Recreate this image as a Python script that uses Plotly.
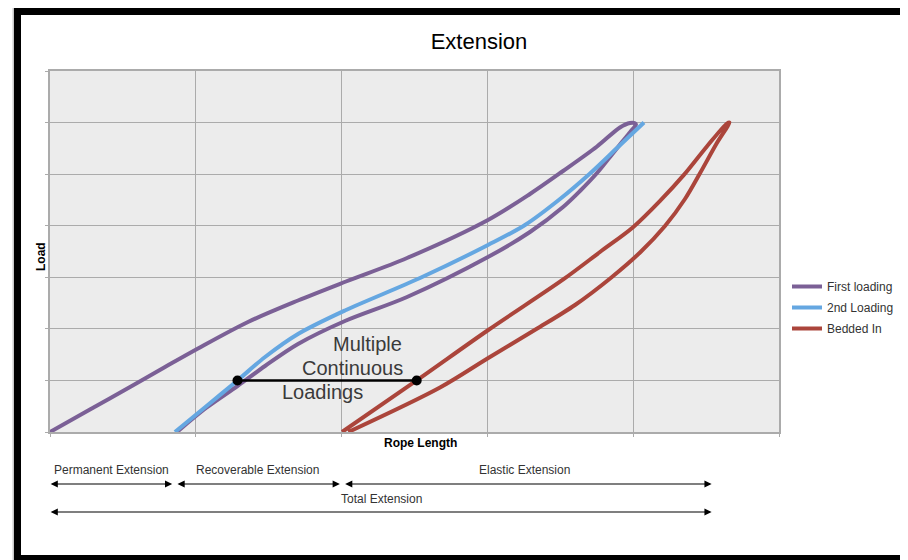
import plotly.graph_objects as go

# ---------------- data (x: rope length units, y: load units) ----------------
first_loading_x = [0.0, 0.274, 0.549, 0.789, 1.015, 1.358, 1.701, 2.030, 2.449, 3.004,
                   3.292, 3.519, 3.752, 3.909, 3.978, 4.012,
                   4.019, 3.985, 3.923, 3.841, 3.752, 3.635, 3.519, 3.292, 3.004, 2.449,
                   2.023, 1.701, 1.475, 1.286, 1.070, 0.871]
first_loading_y = [0.0, 0.436, 0.873, 1.260, 1.619, 2.133, 2.550, 2.918, 3.374, 4.111,
                   4.615, 5.061, 5.536, 5.905, 5.992, 5.986,
                   5.963, 5.837, 5.623, 5.333, 5.022, 4.673, 4.363, 3.878, 3.393, 2.618,
                   2.152, 1.706, 1.280, 0.892, 0.465, 0.0]

second_loading_x = [0.857, 1.070, 1.286, 1.475, 1.701, 2.023, 2.538, 3.004, 3.258, 3.498,
                    3.704, 3.889, 4.074]
second_loading_y = [0.0, 0.494, 1.0, 1.454, 1.900, 2.356, 2.986, 3.626, 4.014, 4.518,
                    5.013, 5.507, 6.002]

bedded_in_x = [2.003, 2.515, 3.006, 3.525, 3.772, 4.001, 4.184, 4.346, 4.504, 4.643, 4.660,
               4.573, 4.458, 4.355, 4.218, 4.047, 3.848, 3.601, 3.333, 3.006,
               2.675, 2.046]
bedded_in_y = [0.0, 1.0, 1.978, 2.968, 3.490, 3.975, 4.480, 4.980, 5.532, 5.982, 6.002,
               5.598, 5.017, 4.518, 3.995, 3.481, 2.992, 2.463, 1.991, 1.435,
               0.863, 0.0]

loadings_x = [1.286, 2.515]
loadings_y = [1.0, 1.0]

series_names = ["First loading", "2nd Loading", "Bedded In"]
series_colors = ["#7b6096", "#65a7e1", "#ab453b"]

segment_bounds = [0.0, 0.85, 2.0, 4.55]
segment_labels = ["Permanent Extension", "Recoverable Extension", "Elastic Extension"]
total_label = "Total Extension"
note_lines = ["Multiple", "Continuous", "Loadings"]

x_ticks = [0, 1, 2, 3, 4, 5]
y_ticks = [0, 1, 2, 3, 4, 5, 6, 7]

# ---------------- layout geometry (page pixels; page body has an 8px margin) ----------------
OFF = 8
W, H = 908 - OFF, 560 - OFF
ML, MT = 50 - OFF, 71 - OFF
PW, PH = 729, 361
MR, MB = W - ML - PW, H - MT - PH


def pxx(x):
    return (x - OFF - ML) / PW


def pxy(y):
    return (MT + PH - (y - OFF)) / PH


FONT = "Liberation Sans, Arial, sans-serif"

fig = go.Figure()
for i, (xs, ys) in enumerate([(first_loading_x, first_loading_y),
                              (second_loading_x, second_loading_y),
                              (bedded_in_x, bedded_in_y)]):
    fig.add_trace(go.Scatter(x=xs, y=ys, mode="lines", name=series_names[i],
                             legendgroup=series_names[i],
                             line=dict(color=series_colors[i], width=4, shape="spline", smoothing=0.9),
                             cliponaxis=False))

fig.add_trace(go.Scatter(x=loadings_x, y=loadings_y, mode="lines+markers", showlegend=False,
                         line=dict(color="black", width=2.5),
                         marker=dict(color="black", size=10), cliponaxis=False))

annotations = []
note_font = dict(family=FONT, size=20, color="#3a3a3a")
annotations.append(dict(x=pxx(404), y=pxy(344), xref="paper", yref="paper", text=note_lines[0],
                        showarrow=False, xanchor="right", yanchor="middle", font=note_font))
annotations.append(dict(x=pxx(405), y=pxy(368), xref="paper", yref="paper", text=note_lines[1],
                        showarrow=False, xanchor="right", yanchor="middle", font=note_font))
annotations.append(dict(x=pxx(280), y=pxy(392), xref="paper", yref="paper", text=note_lines[2],
                        showarrow=False, xanchor="left", yanchor="middle", font=note_font))

# axis titles
annotations.append(dict(x=pxx(420), y=pxy(443), xref="paper", yref="paper", text="<b>Rope Length</b>",
                        showarrow=False, xanchor="center", yanchor="middle",
                        font=dict(family=FONT, size=12, color="black")))
annotations.append(dict(x=pxx(41), y=pxy(257), xref="paper", yref="paper", text="<b>Load</b>",
                        showarrow=False, xanchor="center", yanchor="middle", textangle=-90,
                        font=dict(family=FONT, size=12, color="black")))

# extension labels + arrows (x in data units, y in page position)
gap_end, gap_start = 0.012, -0.006
arrow_style = dict(xref="x", yref="paper", axref="x", ayref="pixel", ay=0, text="",
                   showarrow=True, arrowside="end+start", arrowhead=2, startarrowhead=2,
                   arrowwidth=1.2, arrowsize=1.2, startarrowsize=1.2, arrowcolor="black",
                   standoff=0, startstandoff=0)
label_font = dict(family=FONT, size=12, color="#333")
for i, lab in enumerate(segment_labels):
    a, b = segment_bounds[i], segment_bounds[i + 1]
    annotations.append(dict(x=(a + b) / 2 - (0.02 if i == 2 else 0), y=pxy(470), xref="x",
                            yref="paper", text=lab, showarrow=False, xanchor="center",
                            yanchor="middle", font=label_font))
    annotations.append(dict(x=b - gap_end, y=pxy(484), ax=a + gap_start + (0.02 if i else 0),
                            **arrow_style))
annotations.append(dict(x=(segment_bounds[0] + segment_bounds[-1]) / 2, y=pxy(499),
                        xref="x", yref="paper", text=total_label, showarrow=False,
                        xanchor="center", yanchor="middle", font=label_font))
annotations.append(dict(x=segment_bounds[-1] - gap_end, y=pxy(512),
                        ax=segment_bounds[0] + gap_start, **arrow_style))


# frame
def rect(x0, y0, x1, y1, color):
    return dict(type="rect", xref="paper", yref="paper", x0=pxx(x0), x1=pxx(x1),
                y0=pxy(y1), y1=pxy(y0), fillcolor=color, line=dict(width=0), layer="above")


shapes = [
    rect(12.5, 6.5, 930, 8, "#c8c8c8"),
    rect(12.5, 6.5, 14, 600, "#c8c8c8"),
    rect(14, 8, 930, 15, "black"),
    rect(14, 8, 21, 600, "black"),
    rect(14, 555, 930, 600, "black"),
]

grid_col = "#ababab"
axis_style = dict(showticklabels=False, showgrid=True, gridcolor=grid_col, gridwidth=1.3,
                  zeroline=False, showline=True, linecolor=grid_col, linewidth=1.5, mirror=True,
                  ticks="outside", ticklen=3, tickcolor=grid_col, tickwidth=1.3, fixedrange=True)
fig.update_layout(
    width=W, height=H,
    margin=dict(l=ML, r=MR, t=MT, b=MB, autoexpand=False),
    paper_bgcolor="white", plot_bgcolor="#ececec",
    title=dict(text="Extension", x=(479 - OFF) / W, xref="container", xanchor="center",
               y=1 - (41 - OFF) / H, yref="container", yanchor="middle",
               font=dict(family=FONT, size=22, color="black")),
    xaxis=dict(range=[x_ticks[0], x_ticks[-1]], tickvals=x_ticks, **axis_style),
    yaxis=dict(range=[y_ticks[0], y_ticks[-1]], tickvals=y_ticks, **axis_style),
    legend=dict(x=pxx(787), y=pxy(272), xanchor="left", yanchor="top",
                font=dict(family=FONT, size=12, color="#333"), bgcolor="rgba(0,0,0,0)",
                itemwidth=30, tracegroupgap=2, traceorder="grouped"),
    showlegend=True,
    annotations=annotations,
    shapes=shapes,
)

fig.write_html("out.html")
